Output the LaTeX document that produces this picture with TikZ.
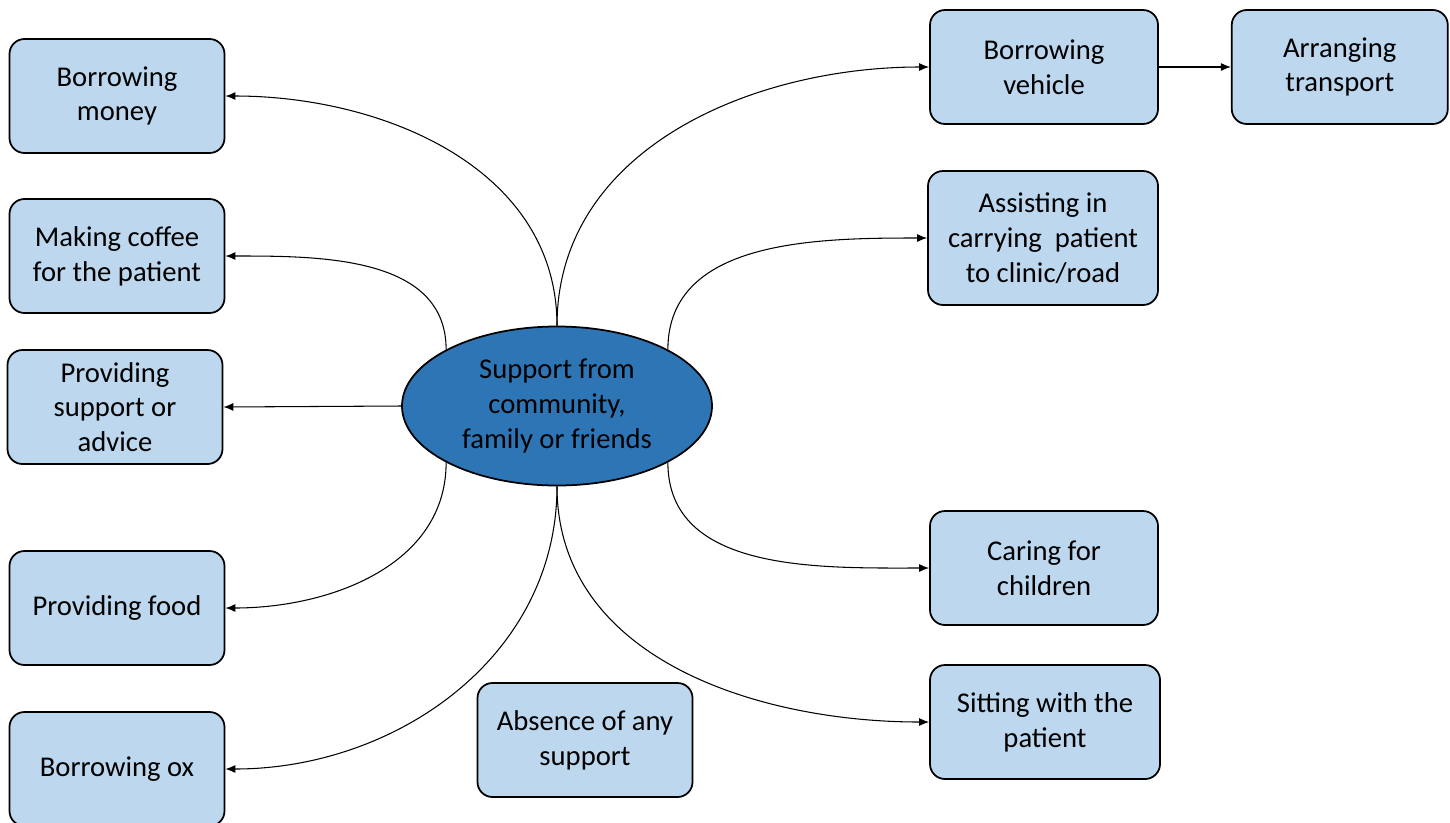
\documentclass[tikz,border=0pt]{standalone}
\usepackage{fontspec}
\setmainfont{Carlito}
\usepackage{tikz}
\usetikzlibrary{arrows.meta,shapes.geometric,positioning}
\definecolor{boxblue}{HTML}{BDD7EE}
\definecolor{hubblue}{HTML}{2E75B6}

\begin{document}
\begin{tikzpicture}[->,>={Latex[length=2mm,width=1.6mm]},semithick,x=0.2mm,y=-0.2mm,
                    every node/.style={font=\fontsize{16.3}{19.8}\selectfont,align=center},
                    box/.style={draw,line width=1pt,rounded corners=0.3cm,fill=boxblue,
                                minimum width=4.3cm,minimum height=2.28cm,inner sep=2pt},
                    hub/.style={draw,line width=1pt,ellipse,fill=hubblue,
                                minimum width=6.2cm,minimum height=3.18cm,inner sep=0pt}]

  \useasboundingbox (0,0) rectangle (1450,822);

  \node[hub] (sup) at (557,406) {Support from\\community,\\family or friends};

  \node[box] (money)   at (117,96)  {Borrowing\\money};
  \node[box] (coffee)  at (117,256) {Making coffee\\for the patient};
  \node[box] (advice)  at (115,407) {Providing\\support or\\advice};
  \node[box] (food)    at (117,608) {Providing food};
  \node[box] (ox)      at (117,769) {Borrowing ox};
  \node[box] (none)    at (585,740) {Absence of any\\support};
  \node[box, minimum width=4.56cm] (vehicle) at (1044,67)  {Borrowing\\vehicle};
  \node[box, minimum width=4.32cm] (transport) [right=1.44cm of vehicle] {Arranging\\transport};
  \node[box, minimum width=4.6cm, minimum height=2.68cm] (carry) at (1043,238) {Assisting in\\carrying~~patient\\to clinic/road};
  \node[box, minimum width=4.56cm] (children) at (1044,568) {Caring for\\children};
  \node[box, minimum width=4.6cm]  (sit)      at (1045,722) {Sitting with the\\patient};

  \path (sup.north) edge [out=90,in=0]    (money.east)
                    edge [out=90,in=180]  (vehicle.west)
        (sup.153)   edge [out=90,in=0]    (coffee.east)
        (sup.west)  edge                  (advice.east)
        (sup.-153)  edge [out=-90,in=0]   (food.east)
        (sup.south) edge [out=-90,in=0]   (ox.east)
                    edge [out=-90,in=180] (sit.west)
        (sup.27)    edge [out=90,in=180]  (carry.west)
        (sup.-27)   edge [out=-90,in=180] (children.west)
        (vehicle)   edge                  (transport);
\end{tikzpicture}
\end{document}
